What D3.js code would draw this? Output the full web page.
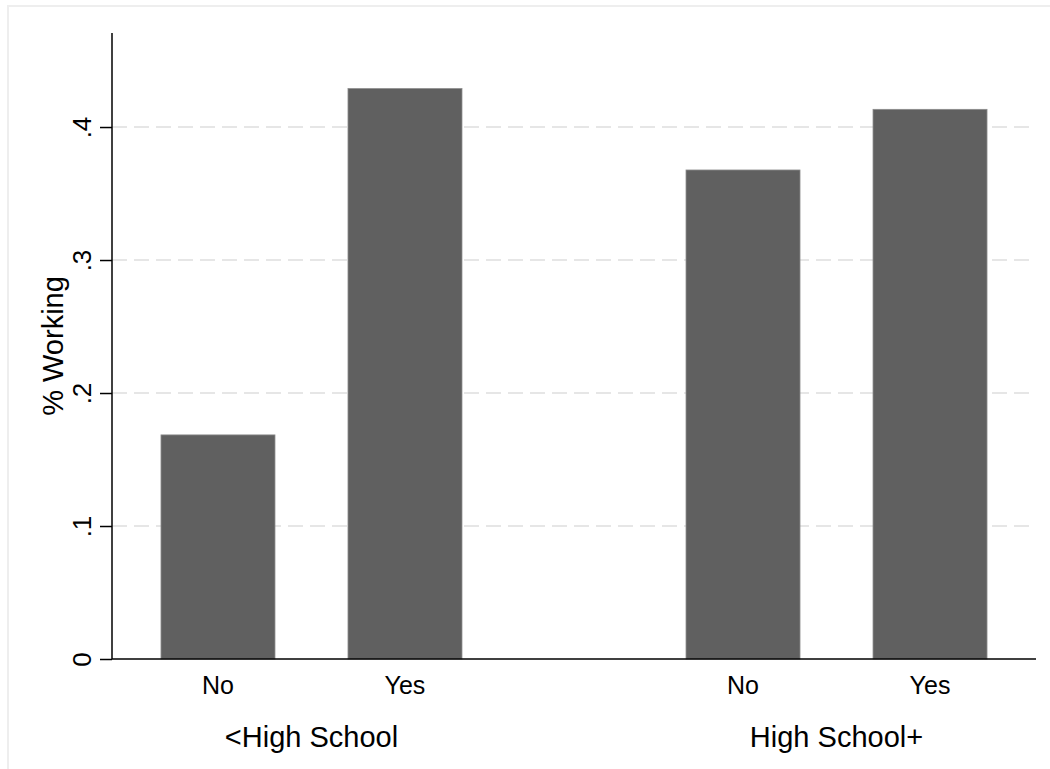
<!DOCTYPE html>
<html>
<head>
<meta charset="utf-8">
<script src="https://cdn.jsdelivr.net/npm/d3@7"></script>
<style>
   body { margin: 0; background: #ffffff; }
   svg { display: block; }
</style>
</head>
<body>
<div class="chart"></div>
<script>
// ======================================
// Our data
// ======================================
var groups = ['<High School', 'High School+'];
var answers = ['No', 'Yes'];
var working = [
   [0.1685, 0.4289],
   [0.3677, 0.4133]
];
var yTicks = [0, 0.1, 0.2, 0.3, 0.4];
var yTitle = '% Working';

// ======================================
// Svg dimensions and plot region
// ======================================
var chart = {
   width: 1050,
   height: 769,
   left: 112,
   right: 1036,
   top: 33,
   bottom: 659,
   font: '"Liberation Sans", Arial, Helvetica, sans-serif'
};

var svg = d3.select('.chart')
   .append('svg')
   .attr('width', chart.width)
   .attr('height', chart.height)
   ;

// light frame round the graph (cut off at right and bottom)
svg.append('rect')
   .attr('x', 8)
   .attr('y', 6)
   .attr('width', chart.width + 20)
   .attr('height', chart.height + 20)
   .attr('fill', 'none')
   .attr('stroke', '#eeeeee')
   .attr('stroke-width', 2)
   ;

// ======================================
// Scales
// ======================================
var x0 = d3.scaleBand()
   .domain(groups)
   .range([chart.left, chart.right])
   .paddingInner(0.4267)
   .paddingOuter(0.0933)
   ;

var x1 = d3.scaleBand()
   .domain(answers)
   .range([0, x0.bandwidth()])
   .paddingInner(0.3904)
   .paddingOuter(0)
   ;

var y = d3.scaleLinear()
   .domain([0, 0.4707])
   .range([chart.bottom, chart.top])
   ;

// ======================================
// Grid lines
// ======================================
svg.append('g')
   .selectAll('line')
   .data(yTicks.filter(function(d){ return d > 0; }))
   .enter()
   .append('line')
      .attr('x1', chart.left)
      .attr('x2', chart.right)
      .attr('y1', function(d){ return y(d); })
      .attr('y2', function(d){ return y(d); })
      .attr('stroke', '#e6e6e6')
      .attr('stroke-width', 2)
      .attr('stroke-dasharray', '15,7')
      ;

// ======================================
// Bars
// ======================================
var rows = [];
groups.forEach(function(g, i){
   answers.forEach(function(a, j){
      rows.push({ group: g, answer: a, value: working[i][j] });
   });
});

svg.append('g')
   .selectAll('rect')
   .data(rows)
   .enter()
   .append('rect')
      .attr('x', function(d){ return x0(d.group) + x1(d.answer); })
      .attr('y', function(d){ return y(d.value); })
      .attr('width', x1.bandwidth())
      .attr('height', function(d){ return y(0) - y(d.value); })
      .attr('fill', '#606060')
      .attr('stroke', '#8c8c8c')
      .attr('stroke-width', 0.8)
      ;

// ======================================
// Axes
// ======================================
var yAxis = d3.axisLeft(y)
   .tickValues(yTicks)
   .tickSize(12)
   .tickFormat(function(d){
      return d === 0 ? '0' : d3.format('.1f')(d).replace(/^0/, '');
   })
   ;

var gy = svg.append('g')
   .attr('transform', 'translate(' + chart.left + ',0)')
   .call(yAxis)
   ;
gy.select('.domain').remove();
gy.selectAll('.tick line')
   .attr('stroke', '#000')
   .attr('stroke-width', 1.5)
   ;
gy.selectAll('.tick text')
   .attr('x', null)
   .attr('dy', null)
   .attr('transform', 'translate(-21,0) rotate(-90)')
   .attr('text-anchor', 'middle')
   .attr('font-family', chart.font)
   .attr('font-size', '26px')
   .attr('fill', '#000')
   ;

// axis lines
svg.append('line')
   .attr('x1', chart.left)
   .attr('x2', chart.left)
   .attr('y1', chart.top)
   .attr('y2', chart.bottom)
   .attr('stroke', '#000')
   .attr('stroke-width', 1.5)
   ;
svg.append('line')
   .attr('x1', chart.left)
   .attr('x2', chart.right)
   .attr('y1', chart.bottom)
   .attr('y2', chart.bottom)
   .attr('stroke', '#000')
   .attr('stroke-width', 1.5)
   ;

// y title
svg.append('text')
   .text(yTitle)
   .attr('transform', 'translate(63,' + ((chart.top + chart.bottom) / 2) + ') rotate(-90)')
   .attr('text-anchor', 'middle')
   .attr('font-family', chart.font)
   .attr('font-size', '29px')
   .attr('fill', '#000')
   ;

// ======================================
// Category labels
// ======================================
svg.append('g')
   .selectAll('text')
   .data(rows)
   .enter()
   .append('text')
      .text(function(d){ return d.answer; })
      .attr('x', function(d){ return x0(d.group) + x1(d.answer) + x1.bandwidth() / 2; })
      .attr('y', 694)
      .attr('text-anchor', 'middle')
      .attr('font-family', chart.font)
      .attr('font-size', '25px')
      .attr('fill', '#000')
      ;

svg.append('g')
   .selectAll('text')
   .data(groups)
   .enter()
   .append('text')
      .text(function(d){ return d; })
      .attr('x', function(d){ return x0(d) + x0.bandwidth() / 2; })
      .attr('y', 747)
      .attr('text-anchor', 'middle')
      .attr('font-family', chart.font)
      .attr('font-size', '29px')
      .attr('fill', '#000')
      ;
</script>
</body>
</html>
